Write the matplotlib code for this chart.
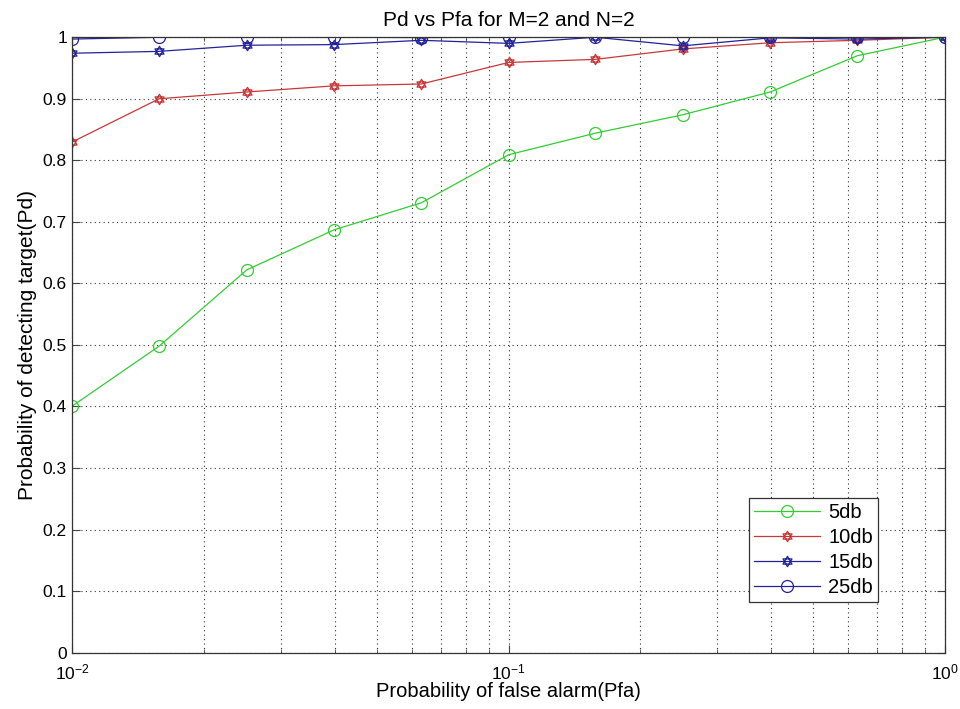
import matplotlib
matplotlib.use("Agg")
import matplotlib.pyplot as plt
from matplotlib.path import Path
from matplotlib.ticker import FixedLocator, LogLocator, NullFormatter, FixedFormatter

plt.rcParams['font.family'] = ['Liberation Sans', 'DejaVu Sans']
plt.rcParams['mathtext.fontset'] = 'custom'
plt.rcParams['mathtext.rm'] = 'Liberation Sans'
plt.rcParams['mathtext.it'] = 'Liberation Sans'

pfa = [0.01, 0.0158, 0.0251, 0.0398, 0.0631, 0.1, 0.158, 0.251, 0.398, 0.631, 1.0]
pd_5db = [0.401, 0.498, 0.622, 0.687, 0.731, 0.809, 0.844, 0.874, 0.911, 0.970, 1.0]
pd_10db = [0.830, 0.900, 0.911, 0.921, 0.924, 0.959, 0.964, 0.981, 0.991, 0.995, 1.0]
pd_15db = [0.974, 0.977, 0.987, 0.988, 0.995, 0.990, 1.0, 0.986, 0.999, 0.997, 1.0]
pd_25db = [0.997, 1.0, 1.0, 1.0, 0.9995, 1.0, 1.0, 1.0, 1.0, 1.0, 1.0]
labels = ['5db', '10db', '15db', '25db']
yticks = [0, 0.1, 0.2, 0.3, 0.4, 0.5, 0.6, 0.7, 0.8, 0.9, 1.0]
ytick_labels = ['0', '0.1', '0.2', '0.3', '0.4', '0.5', '0.6', '0.7', '0.8', '0.9', '1']
xticks = [0.01, 0.1, 1.0]
xtick_labels = [r'$\mathregular{10^{-2}}$', r'$\mathregular{10^{-1}}$', r'$\mathregular{10^{0}}$']

# hexagram (star of David) marker: two overlapping triangles
tri_up = [(0.0, 1.0), (-0.866, -0.5), (0.866, -0.5), (0.0, 1.0)]
tri_dn = [(0.0, -1.0), (0.866, 0.5), (-0.866, 0.5), (0.0, -1.0)]
verts = tri_up + tri_dn
codes = ([Path.MOVETO, Path.LINETO, Path.LINETO, Path.CLOSEPOLY] * 2)
hexagram = Path(verts, codes)

fig = plt.figure(figsize=(9.6, 7.09), dpi=100)
ax = fig.add_axes([0.0755, 0.0795, 0.9085, 0.868])

green = '#33cc33'
red = '#c83838'
blue = '#22229a'

ax.plot(pfa, pd_5db, color=green, lw=0.9, marker='o', ms=8.6, mfc='none', mec=green, mew=0.9, label=labels[0])
ax.plot(pfa, pd_10db, color=red, lw=0.9, marker=hexagram, ms=7.5, mfc='none', mec=red, mew=0.9, label=labels[1])
ax.plot(pfa, pd_15db, color=blue, lw=0.9, marker=hexagram, ms=7.5, mfc='none', mec=blue, mew=0.9, label=labels[2])
ax.plot(pfa, pd_25db, color=blue, lw=0.9, marker='o', ms=8.6, mfc='none', mec=blue, mew=0.9, label=labels[3])

ax.set_xscale('log')
ax.set_xlim(0.01, 1.0)
ax.set_ylim(0, 1)
ax.yaxis.set_major_locator(FixedLocator(yticks))
ax.yaxis.set_major_formatter(FixedFormatter(ytick_labels))
ax.xaxis.set_major_locator(FixedLocator(xticks))
ax.xaxis.set_major_formatter(FixedFormatter(xtick_labels))
ax.xaxis.set_minor_locator(LogLocator(base=10, subs=range(2, 10), numticks=20))
ax.xaxis.set_minor_formatter(NullFormatter())

ax.grid(True, which='major', axis='both', linestyle=(0, (1, 3)), color='#333333', lw=0.8)
ax.grid(True, which='minor', axis='x', linestyle=(0, (1, 3)), color='#333333', lw=0.8)

ax.tick_params(which='both', direction='in', top=True, right=True, labelsize=12.5, color='#444444')
ax.tick_params(which='major', length=6, pad=4)
ax.tick_params(axis='x', which='major', pad=7)
ax.tick_params(which='minor', length=3)
for s in ax.spines.values():
    s.set_color('#333333')
    s.set_linewidth(0.9)

ax.set_title('Pd vs Pfa for M=2 and N=2', fontsize=15, pad=8)
ax.set_xlabel('Probability of false alarm(Pfa)', fontsize=14.5, labelpad=0)
ax.set_ylabel('Probability of detecting target(Pd)', fontsize=15, labelpad=4)

leg = ax.legend(loc='lower right', bbox_to_anchor=(0.9235, 0.082), fontsize=14.5,
                fancybox=False, framealpha=1, edgecolor='#333333',
                handlelength=3.3, borderpad=0.25, labelspacing=0.3, handletextpad=0.4,
                borderaxespad=0)
leg.get_frame().set_linewidth(0.9)

fig.savefig('out.png', dpi=100, facecolor='white')
